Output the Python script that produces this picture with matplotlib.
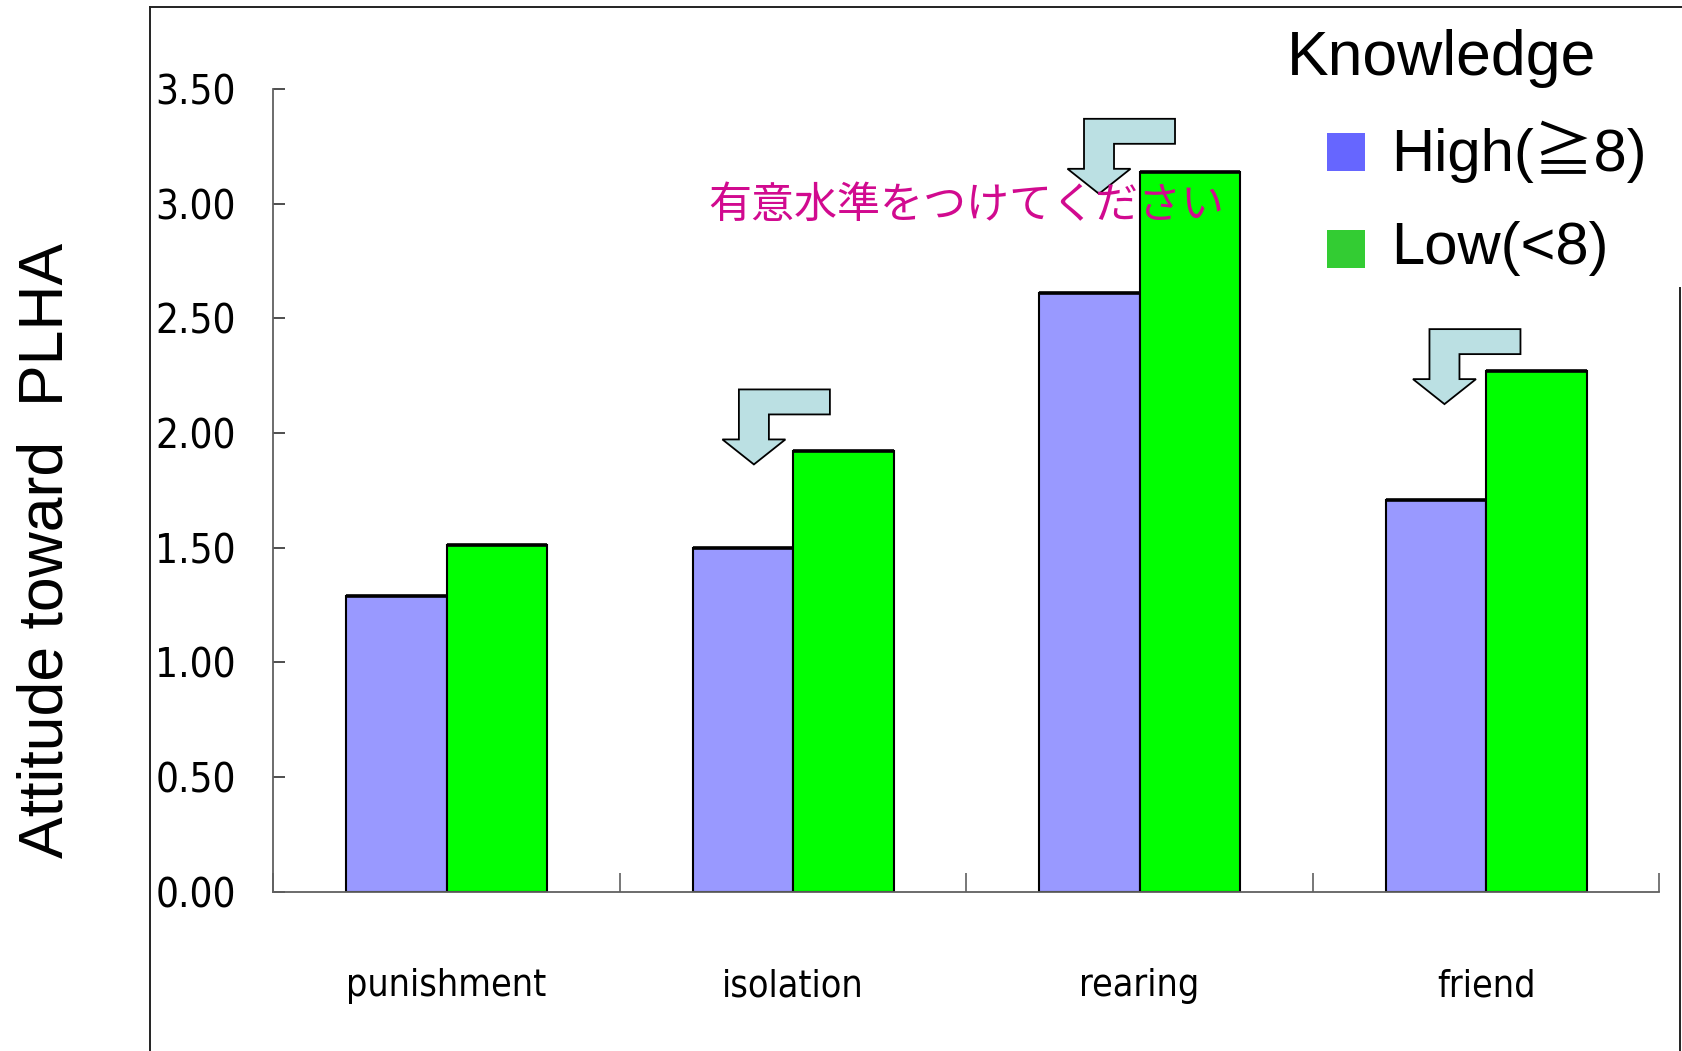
import matplotlib
matplotlib.use("Agg")
import matplotlib.pyplot as plt
import numpy as np
from matplotlib.patches import Rectangle, Polygon
from matplotlib.lines import Line2D
from matplotlib.transforms import Affine2D, ScaledTranslation

# attitude scores by knowledge group
categories = ["punishment", "isolation", "rearing", "friend"]
high_scores = [1.29, 1.50, 2.61, 1.71]
low_scores = [1.51, 1.92, 3.14, 2.27]
group_labels = ["High(≧8)", "Low(<8)"]
legend_title = "Knowledge"
y_ticks = [0.0, 0.5, 1.0, 1.5, 2.0, 2.5, 3.0, 3.5]

# where the bent arrows point (data coords)
arrow_tips = [(0.887, 1.863), (1.883, 3.043), (2.880, 2.126)]
note_text = "有意水準をつけてください"

bar_colors = ["#9999FF", "#00FF00"]
legend_colors = ["#6666FF", "#33CC33"]

narrow = dict(family="DejaVu Sans", stretch="condensed")
plain = ["Liberation Sans", "Noto Sans CJK JP", "DejaVu Sans"]

W, H = 1682, 1051
fig = plt.figure(figsize=(W / 100, H / 100), dpi=100)
ax = fig.add_axes([273.3 / W, 159.3 / H, 1386 / W, 802.7 / H])

x = np.arange(len(categories))
width = 0.29
ax.bar(x - width / 2, high_scores, width, color=bar_colors[0],
       edgecolor="black", linewidth=1.5, zorder=2)
ax.bar(x + width / 2, low_scores, width, color=bar_colors[1],
       edgecolor="black", linewidth=1.5, zorder=2)
# heavier line on the bar tops
ax.hlines(high_scores, x - width, x, colors="black", linewidth=2.6, zorder=3)
ax.hlines(low_scores, x, x + width, colors="black", linewidth=2.6, zorder=3)

ax.set_xlim(-0.5, len(categories) - 0.5)
ax.set_ylim(0, 3.5)

for side in ["top", "right"]:
    ax.spines[side].set_visible(False)
for side in ["left", "bottom"]:
    ax.spines[side].set_color("#606060")
    ax.spines[side].set_linewidth(1.3)

ax.set_yticks(y_ticks)
ax.set_yticklabels([f"{v:.2f}" for v in y_ticks], fontsize=29, **narrow)
ax.tick_params(axis="y", direction="in", length=8.5, width=1.2,
               color="#303030", pad=27)

ax.set_xticks(np.arange(-0.5, len(categories), 1.0))
ax.set_xticklabels([])
ax.tick_params(axis="x", which="major", direction="in", length=14, width=1.2,
               color="#606060")
ax.set_xticks(x, minor=True)
ax.set_xticklabels(categories, minor=True, fontsize=27, **narrow)
ax.tick_params(axis="x", which="minor", length=0, pad=55)

ax.set_ylabel("Attitude toward  PLHA", family=plain, fontsize=45)
ax.yaxis.set_label_coords(-0.143, 0.4257)

# bent call-out arrows, shape given in pixels relative to the tip
arrow_shape = [(0, 0), (-31.5, 25), (-15, 25), (-15, 75), (76, 75),
               (76, 50), (15, 50), (15, 25), (31.5, 25)]
for tx, ty in arrow_tips:
    tr = Affine2D() + ScaledTranslation(tx, ty, ax.transData)
    ax.add_patch(Polygon(arrow_shape, closed=True, transform=tr,
                         facecolor="#BBE0E3", edgecolor="black",
                         linewidth=1.3, zorder=4, clip_on=False))

ax.text(0.755, 2.99, note_text, family=["Noto Sans CJK JP"], fontsize=31,
        color="#D10A8F", va="center", ha="left", zorder=5, clip_on=False)

# legend drawn by hand
fig.text(1287 / W, 1 - 58 / H, legend_title, family=plain, fontsize=45,
         va="center", ha="left")
for i, (lab, col) in enumerate(zip(group_labels, legend_colors)):
    top = 133 + i * 97
    fig.patches.append(Rectangle((1327 / W, 1 - (top + 38) / H), 38 / W, 38 / H,
                                 transform=fig.transFigure, facecolor=col,
                                 edgecolor="none"))
    fig.text(1391 / W, 1 - (top + 19) / H, lab, family=plain, fontsize=43,
             va="center", ha="left")

# outer frame around the chart area
frame = dict(transform=fig.transFigure, color="#222222", linewidth=1.4)
fig.add_artist(Line2D([149.5 / W, 149.5 / W], [0, 1 - 6.5 / H], **frame))
fig.add_artist(Line2D([149.5 / W, 1], [1 - 6.5 / H, 1 - 6.5 / H], **frame))
fig.add_artist(Line2D([1680 / W, 1680 / W], [0, 1 - 288 / H], **frame))

fig.savefig("out.png", dpi=100, facecolor="white")
